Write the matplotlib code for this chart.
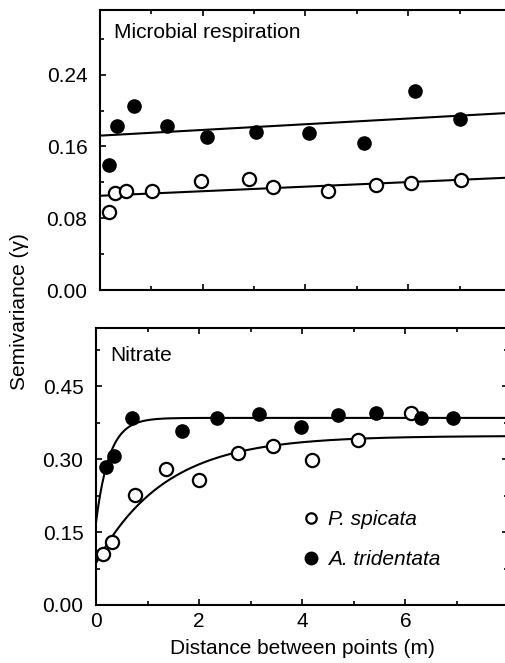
import matplotlib.pyplot as plt
import numpy as np

plt.rcParams['font.family'] = ['Liberation Sans', 'DejaVu Sans']

# Microbial respiration (top panel)
resp_ps_x = [0.17, 0.30, 0.50, 1.02, 1.97, 2.90, 3.37, 4.44, 5.37, 6.05, 7.02]
resp_ps_y = [0.087, 0.108, 0.110, 0.110, 0.122, 0.124, 0.115, 0.110, 0.117, 0.119, 0.123]
resp_at_x = [0.18, 0.34, 0.67, 1.31, 2.08, 3.04, 4.06, 5.13, 6.14, 7.00]
resp_at_y = [0.139, 0.183, 0.205, 0.183, 0.171, 0.176, 0.175, 0.164, 0.222, 0.190]
# linear fits: intercept, slope
resp_ps_fit = (0.105, 0.00254)
resp_at_fit = (0.172, 0.00318)

# Nitrate (bottom panel)
nit_ps_x = [0.14, 0.31, 0.75, 1.35, 2.00, 2.76, 3.43, 4.19, 5.09, 6.10]
nit_ps_y = [0.105, 0.130, 0.226, 0.280, 0.258, 0.312, 0.327, 0.298, 0.339, 0.395]
nit_at_x = [0.20, 0.34, 0.70, 1.66, 2.35, 3.17, 3.97, 4.69, 5.43, 6.31, 6.92]
nit_at_y = [0.285, 0.307, 0.384, 0.358, 0.384, 0.394, 0.367, 0.391, 0.396, 0.385, 0.384]
# exponential models: nugget, partial sill, range
nit_ps_fit = (0.086, 0.262, 4.0)
nit_at_fit = (0.170, 0.215, 0.78)

x_ticks = [0, 2, 4, 6, 8]
x_ticklabels = ['0', '2', '4', '6', '']

W, H = 506, 663
fig = plt.figure(figsize=(W / 100, H / 100), dpi=100)

def box(l, t, r, b):
    return [l / W, 1 - b / H, (r - l) / W, (b - t) / H]

ax1 = fig.add_axes(box(100, 10, 511, 290))
ax2 = fig.add_axes(box(96, 328, 508.5, 605))

ms = 9.5
xx = np.linspace(0, 8, 400)

def style(ax):
    ax.set_xlim(0, 8)
    ax.tick_params(which='both', direction='in', top=True, right=True,
                   labelsize=15, width=1.2)
    ax.tick_params(axis='y', pad=9)
    ax.tick_params(axis='x', pad=5)
    ax.tick_params(which='major', length=4)
    ax.tick_params(which='minor', length=3)
    for s in ax.spines.values():
        s.set_linewidth(1.5)
    ax.set_xticks(x_ticks)
    ax.set_xticklabels(x_ticklabels)
    ax.set_xticks(np.arange(1, 9, 2), minor=True)

# top panel
ax1.plot(xx, resp_at_fit[0] + resp_at_fit[1] * xx, color='black', lw=1.5)
ax1.plot(xx, resp_ps_fit[0] + resp_ps_fit[1] * xx, color='black', lw=1.5)
ax1.plot(resp_at_x, resp_at_y, 'o', color='black', ms=ms, clip_on=False)
ax1.plot(resp_ps_x, resp_ps_y, 'o', mfc='white', mec='black', mew=1.6, ms=ms, clip_on=False)
style(ax1)
ax1.set_ylim(0, 0.312)
ax1.set_yticks([0, 0.08, 0.16, 0.24])
ax1.set_yticklabels(['0.00', '0.08', '0.16', '0.24'])
ax1.set_yticks([0.04, 0.12, 0.20, 0.28], minor=True)
ax1.tick_params(labelbottom=False)
ax1.text(0.035, 0.955, 'Microbial respiration', transform=ax1.transAxes,
         fontsize=15, va='top', ha='left')

# bottom panel
ax2.plot(xx, nit_at_fit[0] + nit_at_fit[1] * (1 - np.exp(-3 * xx / nit_at_fit[2])),
         color='black', lw=1.5)
ax2.plot(xx, nit_ps_fit[0] + nit_ps_fit[1] * (1 - np.exp(-3 * xx / nit_ps_fit[2])),
         color='black', lw=1.5)
ax2.plot(nit_ps_x, nit_ps_y, 'o', mfc='white', mec='black', mew=1.6, ms=ms, clip_on=False)
ax2.plot(nit_at_x, nit_at_y, 'o', color='black', ms=ms, clip_on=False)
# legend handles
ax2.plot([], [], 'o', mfc='white', mec='black', mew=1.6, ms=7.5, label='P. spicata')
ax2.plot([], [], 'o', color='black', ms=9, label='A. tridentata')
style(ax2)
ax2.set_ylim(0, 0.57)
ax2.set_yticks([0, 0.15, 0.30, 0.45])
ax2.set_yticklabels(['0.00', '0.15', '0.30', '0.45'])
ax2.set_yticks([0.075, 0.225, 0.375, 0.525], minor=True)
ax2.text(0.035, 0.934, 'Nitrate', transform=ax2.transAxes,
         fontsize=15, va='top', ha='left')
leg = ax2.legend(loc='center left', bbox_to_anchor=(0.475, 0.235), frameon=False,
                 prop={'style': 'italic', 'size': 15}, handlelength=0.8,
                 handletextpad=0.45, labelspacing=1.0, borderpad=0)
ax2.set_xlabel('Distance between points (m)', fontsize=15, labelpad=6)

fig.text(20 / W, 1 - 312 / H, 'Semivariance (\u03b3)', rotation=90,
         fontsize=15, ha='center', va='center')

fig.savefig('out.png', dpi=100)
